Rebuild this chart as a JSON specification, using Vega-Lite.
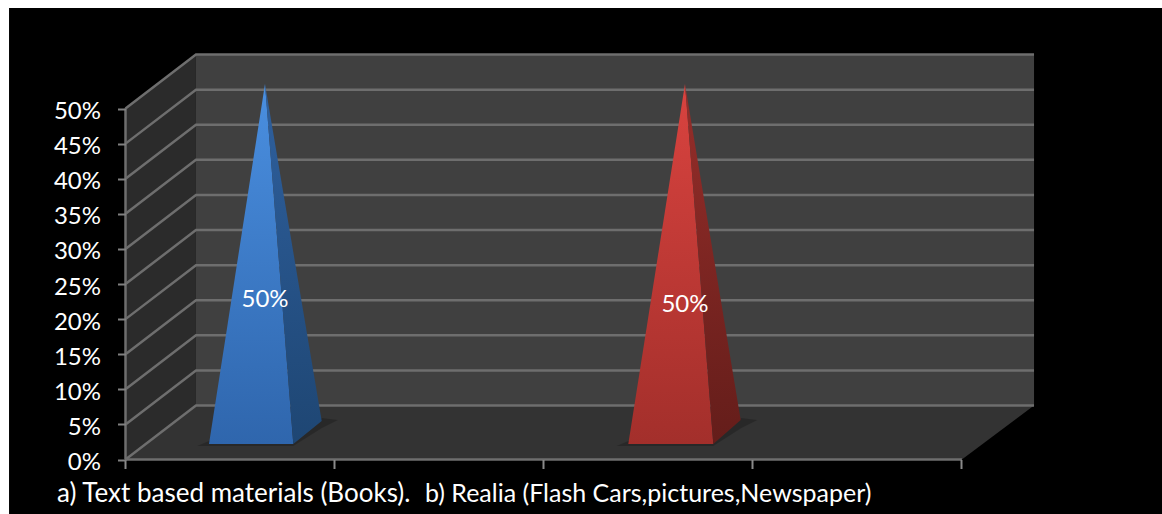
{
"$schema":"https://vega.github.io/schema/vega-lite/v6.json",
"width":1162,"height":514,"padding":0,"autosize":{"type":"none"},"background":"#ffffff",
"config":{"view":{"stroke":null},"axis":{"grid":false},"font":"Lato"},
"datasets":{
"panel":[{"x":-0.557,"x2":4.957,"y":0.6432,"y2":-0.0776}],
"wall":[{"x":0.337,"x2":4.345,"y":0.5769,"y2":0.0769}],
"side":[{"x":0,"y":0.5,"y2":0},{"x":0.337,"y":0.5769,"y2":0.0769}],
"floor":[{"x":0,"y":0,"y2":0},{"x":0.337,"y":0.0769,"y2":0},{"x":4,"y":0.0769,"y2":0},{"x":4.345,"y":0.0769,"y2":0.0769}],
"grid":[
{"level":0,"x":0,"y":0},{"level":0,"x":0.337,"y":0.0769},{"level":0,"x":4.345,"y":0.0769},
{"level":0.05,"x":0,"y":0.05},{"level":0.05,"x":0.337,"y":0.1269},{"level":0.05,"x":4.345,"y":0.1269},
{"level":0.1,"x":0,"y":0.1},{"level":0.1,"x":0.337,"y":0.1769},{"level":0.1,"x":4.345,"y":0.1769},
{"level":0.15,"x":0,"y":0.15},{"level":0.15,"x":0.337,"y":0.2269},{"level":0.15,"x":4.345,"y":0.2269},
{"level":0.2,"x":0,"y":0.2},{"level":0.2,"x":0.337,"y":0.2769},{"level":0.2,"x":4.345,"y":0.2769},
{"level":0.25,"x":0,"y":0.25},{"level":0.25,"x":0.337,"y":0.3269},{"level":0.25,"x":4.345,"y":0.3269},
{"level":0.3,"x":0,"y":0.3},{"level":0.3,"x":0.337,"y":0.3769},{"level":0.3,"x":4.345,"y":0.3769},
{"level":0.35,"x":0,"y":0.35},{"level":0.35,"x":0.337,"y":0.4269},{"level":0.35,"x":4.345,"y":0.4269},
{"level":0.4,"x":0,"y":0.4},{"level":0.4,"x":0.337,"y":0.4769},{"level":0.4,"x":4.345,"y":0.4769},
{"level":0.45,"x":0,"y":0.45},{"level":0.45,"x":0.337,"y":0.5269},{"level":0.45,"x":4.345,"y":0.5269},
{"level":0.5,"x":0,"y":0.5},{"level":0.5,"x":0.337,"y":0.5769},{"level":0.5,"x":4.345,"y":0.5769},
{"level":"base","x":0,"y":0},{"level":"base","x":4,"y":0},
{"level":"axis","x":0,"y":0},{"level":"axis","x":0.0001,"y":0.5}
],
"shadow":[
{"s":"a","x":0.342,"y":0.0192,"y2":0.0192},{"s":"a","x":0.3993,"y":0.0264,"y2":0.0192},{"s":"a","x":0.8025,"y":0.0264,"y2":0.0192},{"s":"a","x":0.9397,"y":0.0591,"y2":0.0449},{"s":"a","x":1.0163,"y":0.0563,"y2":0.0563},
{"s":"b","x":2.348,"y":0.0192,"y2":0.0192},{"s":"b","x":2.4046,"y":0.0264,"y2":0.0192},{"s":"b","x":2.8111,"y":0.0264,"y2":0.0192},{"s":"b","x":2.9457,"y":0.0591,"y2":0.0449},{"s":"b","x":3.022,"y":0.0563,"y2":0.0563}
],
"blueFront":[{"x":0.3993,"y":0.0221,"y2":0.0221},{"x":0.6671,"y":0.5349,"y2":0.0221},{"x":0.8025,"y":0.0221,"y2":0.0221}],
"blueSide":[{"x":0.6671,"y":0.5349,"y2":0.5349},{"x":0.8025,"y":0.2953,"y2":0.0221},{"x":0.9383,"y":0.0548,"y2":0.0548}],
"redFront":[{"x":2.4046,"y":0.0221,"y2":0.0221},{"x":2.6757,"y":0.5349,"y2":0.0221},{"x":2.8111,"y":0.0221,"y2":0.0221}],
"redSide":[{"x":2.6757,"y":0.5349,"y2":0.5349},{"x":2.8111,"y":0.2917,"y2":0.0221},{"x":2.9421,"y":0.0563,"y2":0.0563}],
"values":[{"x":0.6671,"y":0.2266,"label":"50%"},{"x":2.6757,"y":0.2195,"label":"50%"}],
"catA":[{"x":-0.3276,"y":-0.0612,"label":"a) Text based materials (Books)."}],
"catB":[{"x":1.432,"y":-0.0612,"label":"b) Realia (Flash Cars,pictures,Newspaper)"}]
},
"encoding":{
"x":{"field":"x","type":"quantitative","title":null,
 "scale":{"domain":[-0.6002,4.957],"nice":false,"zero":false},
 "axis":{"values":[0,1,2,3,4],"labels":false,"domain":false,"ticks":true,"tickSize":9,"tickColor":"#8a8a8a","tickWidth":2,"tickOffset":-1,"offset":-54.5,"zindex":1,"title":null,"orient":"bottom"}},
"y":{"field":"y","type":"quantitative","title":null,"stack":null,
 "scale":{"domain":[-0.0776,0.6546],"nice":false,"zero":false},
 "axis":{"values":[0,0.05,0.1,0.15,0.2,0.25,0.3,0.35,0.4,0.45,0.5],"format":".0%","domain":false,"tickSize":8,"tickColor":"#808080","tickWidth":2,"offset":-125.5,"labelPadding":17,"labelOffset":3,"labelFont":"Lato","labelFontSize":24,"labelColor":"#ffffff","zindex":1,"title":null,"orient":"left"}}
},
"layer":[
{"data":{"name":"panel"},"mark":{"type":"rect","color":"#000000"},"encoding":{"x2":{"field":"x2"},"y2":{"field":"y2"}}},
{"data":{"name":"wall"},"mark":{"type":"rect","color":"#404040"},"encoding":{"x2":{"field":"x2"},"y2":{"field":"y2"}}},
{"data":{"name":"side"},"mark":{"type":"area","color":"#2b2b2b"},"encoding":{"y2":{"field":"y2"}}},
{"data":{"name":"floor"},"mark":{"type":"area","color":"#333333"},"encoding":{"y2":{"field":"y2"}}},
{"data":{"name":"grid"},"mark":{"type":"line","color":"#6e6e6e","strokeWidth":2.5},"encoding":{"detail":{"field":"level"}}},
{"data":{"name":"shadow"},"mark":{"type":"area","color":"#000000","opacity":0.2},"encoding":{"y2":{"field":"y2"},"detail":{"field":"s"}}},
{"data":{"name":"blueFront"},"mark":{"type":"area","color":{"gradient":"linear","x1":0,"x2":0,"y1":0,"y2":1,"stops":[{"offset":0,"color":"#4a8fe0"},{"offset":1,"color":"#2f66ad"}]}},"encoding":{"y2":{"field":"y2"}}},
{"data":{"name":"blueSide"},"mark":{"type":"area","color":{"gradient":"linear","x1":0,"x2":0,"y1":0,"y2":1,"stops":[{"offset":0,"color":"#2f609e"},{"offset":1,"color":"#1e4673"}]}},"encoding":{"y2":{"field":"y2"}}},
{"data":{"name":"redFront"},"mark":{"type":"area","color":{"gradient":"linear","x1":0,"x2":0,"y1":0,"y2":1,"stops":[{"offset":0,"color":"#d9433f"},{"offset":1,"color":"#a32f2b"}]}},"encoding":{"y2":{"field":"y2"}}},
{"data":{"name":"redSide"},"mark":{"type":"area","color":{"gradient":"linear","x1":0,"x2":0,"y1":0,"y2":1,"stops":[{"offset":0,"color":"#962e2a"},{"offset":1,"color":"#641d1a"}]}},"encoding":{"y2":{"field":"y2"}}},
{"data":{"name":"values"},"mark":{"type":"text","color":"#ffffff","font":"Lato","fontSize":24,"align":"center","baseline":"middle"},"encoding":{"text":{"field":"label"}}},
{"data":{"name":"catA"},"mark":{"type":"text","color":"#ffffff","font":"Lato","fontSize":26,"align":"left","baseline":"alphabetic"},"encoding":{"text":{"field":"label"}}},
{"data":{"name":"catB"},"mark":{"type":"text","color":"#ffffff","font":"Lato","fontSize":25,"align":"left","baseline":"alphabetic"},"encoding":{"text":{"field":"label"}}}
]
}
